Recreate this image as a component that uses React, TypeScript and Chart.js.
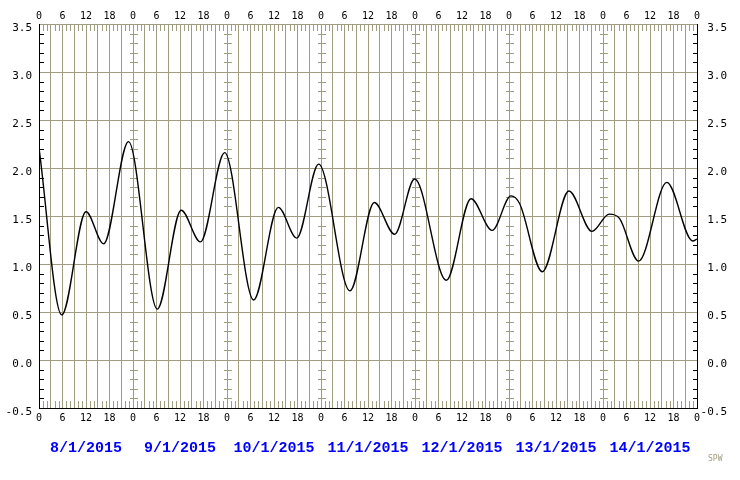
import React, { useEffect, useRef } from 'react';
import { Chart, registerables } from 'chart.js';

Chart.register(...registerables);

// Time in hours since 8/1/2015 00:00, and sea level readings (extrema and shoulders)
const hours = [
  0, 5.8, 12.0, 16.5, 22.85, 30.2, 36.3, 41.2, 47.4, 54.8, 61.1, 65.8, 71.4, 79.4,
  85.6, 90.8, 95.9, 104.0, 110.3, 115.7, 120.5, 122.7, 128.5, 135.3, 141.2, 145.6,
  148.2, 153.1, 160.3, 166.9, 168,
];
const levels = [
  2.21, 0.47, 1.545, 1.21, 2.275, 0.53, 1.56, 1.23, 2.16, 0.625, 1.59, 1.27, 2.04, 0.72,
  1.64, 1.31, 1.885, 0.83, 1.68, 1.35, 1.71, 1.63, 0.92, 1.76, 1.34, 1.52,
  1.475, 1.03, 1.85, 1.24, 1.26,
];

const dayLabels = ['8/1/2015', '9/1/2015', '10/1/2015', '11/1/2015', '12/1/2015', '13/1/2015', '14/1/2015'];
const hourLabels = ['0', '6', '12', '18'];
const yMin = -0.5;
const yMax = 3.5;
const yStep = 0.5;

const GRID = '#A09C80';
const CLEAR = 'rgba(0,0,0,0)';
const DAYS = dayLabels.length;
const TOTAL_H = DAYS * 24;

const minorTicks = {
  id: 'minorTicks',
  beforeDatasetsDraw(chart: any) {
    const ctx = chart.ctx;
    const xs = chart.scales.x;
    const ys = chart.scales.y;
    const { left, right, top, bottom } = chart.chartArea;
    ctx.save();
    ctx.lineWidth = 1;
    ctx.strokeStyle = GRID;
    ctx.beginPath();
    for (let h = 0; h <= TOTAL_H; h++) {
      if (h % 3 === 0) continue;
      const px = Math.round(xs.getPixelForValue(h)) + 0.5;
      ctx.moveTo(px, top);
      ctx.lineTo(px, top + 7);
      ctx.moveTo(px, bottom);
      ctx.lineTo(px, bottom - 7);
    }
    ctx.stroke();
    for (let d = 0; d <= DAYS; d++) {
      const px = Math.round(xs.getPixelForValue(d * 24));
      ctx.beginPath();
      ctx.strokeStyle = d === 0 || d === DAYS ? '#000' : GRID;
      for (let k = Math.round(yMin * 10) + 1; k < Math.round(yMax * 10); k++) {
        if (k % 5 === 0) continue;
        const py = Math.round(ys.getPixelForValue(k / 10)) + 0.5;
        if (d === 0) {
          ctx.moveTo(left, py);
          ctx.lineTo(left + 5, py);
        } else if (d === DAYS) {
          ctx.moveTo(right - 4, py);
          ctx.lineTo(right + 1, py);
        } else {
          ctx.moveTo(px - 3, py);
          ctx.lineTo(px + 5, py);
        }
      }
      ctx.stroke();
    }
    ctx.restore();
  },
};

export default function App() {
  const ref = useRef<HTMLCanvasElement | null>(null);

  useEffect(() => {
    if (!ref.current) return;
    const hourTicks = (step: number) => {
      const t: any[] = [];
      for (let h = 0; h <= TOTAL_H; h += step) t.push({ value: h });
      return t;
    };
    const hourLabel = (v: any) => {
      const n = Number(v);
      return n % 6 === 0 ? hourLabels[(n % 24) / 6] : '';
    };
    const axisFont = { family: 'DejaVu Sans Mono', size: 10 };
    const yFont = { family: 'DejaVu Sans Mono', size: 11 };

    const chart = new Chart(ref.current, {
      type: 'line',
      data: {
        datasets: [
          {
            data: hours.map((h, i) => ({ x: h, y: levels[i] })),
            borderColor: '#000',
            borderWidth: 1.4,
            pointRadius: 0,
            fill: false,
            cubicInterpolationMode: 'monotone',
            xAxisID: 'x',
            yAxisID: 'y',
          },
        ],
      },
      options: {
        animation: false,
        responsive: false,
        layout: { padding: { left: 0, right: 13, top: 0, bottom: 0 } },
        plugins: { legend: { display: false }, tooltip: { enabled: false } },
        scales: {
          x: {
            type: 'linear',
            position: 'bottom',
            weight: 0,
            min: 0,
            max: TOTAL_H,
            afterBuildTicks: (s: any) => { s.ticks = hourTicks(3); },
            afterFit: (s: any) => { s.height = 20; },
            ticks: { autoSkip: false, maxRotation: 0, color: '#000', font: axisFont, padding: 4, callback: hourLabel },
            grid: {
              drawTicks: false,
              lineWidth: 1,
              color: (c: any) => (c.tick && (c.tick.value === 0 || c.tick.value === TOTAL_H) ? CLEAR : GRID),
            },
            border: { color: '#000', width: 1 },
          },
          xDate: {
            type: 'linear',
            position: 'bottom',
            weight: 1,
            min: 0,
            max: TOTAL_H,
            afterBuildTicks: (s: any) => { s.ticks = dayLabels.map((_, i) => ({ value: i * 24 + 12 })); },
            afterFit: (s: any) => { s.height = 52; },
            ticks: {
              autoSkip: false,
              maxRotation: 0,
              color: '#0000ff',
              font: { family: 'Liberation Mono', size: 15, weight: 'bold' },
              padding: 11,
              callback: (_v: any, i: number) => dayLabels[i],
            },
            grid: { display: false, drawTicks: false },
            border: { display: false },
          },
          xTop: {
            type: 'linear',
            position: 'top',
            min: 0,
            max: TOTAL_H,
            afterBuildTicks: (s: any) => { s.ticks = hourTicks(6); },
            afterFit: (s: any) => { s.height = 24; },
            ticks: { autoSkip: false, maxRotation: 0, color: '#000', font: axisFont, padding: 2, callback: hourLabel },
            grid: { drawOnChartArea: false, drawTicks: false },
            border: { color: GRID, width: 1 },
          },
          y: {
            type: 'linear',
            position: 'left',
            min: yMin,
            max: yMax,
            afterFit: (s: any) => { s.width = 39; },
            ticks: {
              stepSize: yStep,
              color: '#000',
              font: yFont,
              padding: 7,
              labelOffset: 4,
              callback: (v: any) => Number(v).toFixed(1),
            },
            grid: {
              drawTicks: false,
              lineWidth: 1,
              color: (c: any) => (c.tick && Math.abs(c.tick.value - yMin) < 1e-6 ? CLEAR : GRID),
            },
            border: { color: '#000', width: 1 },
          },
          yRight: {
            type: 'linear',
            position: 'right',
            min: yMin,
            max: yMax,
            afterFit: (s: any) => { s.width = 30; },
            ticks: {
              stepSize: yStep,
              color: '#000',
              font: yFont,
              padding: 7,
              labelOffset: 4,
              crossAlign: 'far',
              callback: (v: any) => Number(v).toFixed(1),
            },
            grid: { drawOnChartArea: false, drawTicks: false },
            border: { color: '#000', width: 1 },
          },
        },
      } as any,
      plugins: [minorTicks],
    });
    return () => chart.destroy();
  }, []);

  return (
    <div style={{ position: 'absolute', left: 0, top: 0, width: 740, height: 480, background: '#fff' }}>
      <canvas ref={ref} width={740} height={480} style={{ display: 'block' }} />
      <div
        style={{
          position: 'absolute',
          left: 708,
          top: 454,
          fontFamily: 'DejaVu Sans Mono',
          fontSize: 8,
          color: '#A09C80',
          lineHeight: '10px',
        }}
      >
        SPW
      </div>
    </div>
  );
}
